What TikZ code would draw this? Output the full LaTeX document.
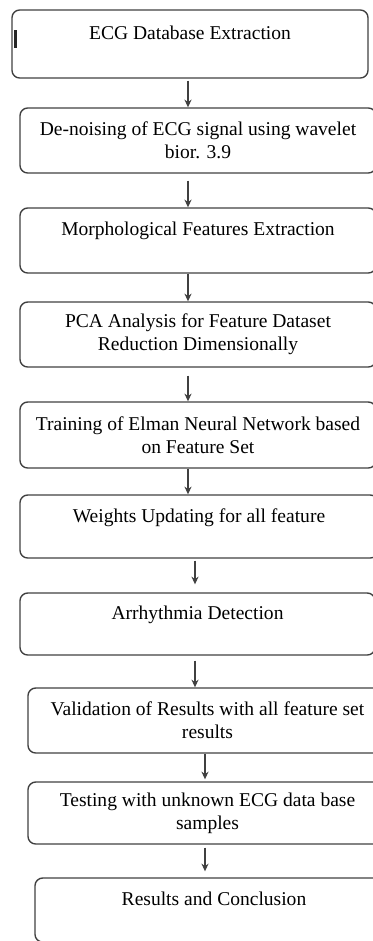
\documentclass[tikz,border=0pt]{standalone}
\usepackage{fontspec}
\setmainfont{Liberation Serif}
\usepackage{xcolor}
\usetikzlibrary{shapes,arrows.meta,positioning,calc}

\definecolor{edgegray}{HTML}{404040}
\newcommand{\px}{0.65pt}

\begin{document}
\begin{tikzpicture}[
    x=0.65pt, y=-0.65pt,
    box/.style={rectangle, draw=edgegray, rounded corners=5pt, line width=0.9pt, align=center, inner sep=0pt, font=\fontsize{12.7}{14.8}\selectfont},
    arrow/.style={-{Stealth[length=5pt,width=4.6pt]}, line width=0.9pt, draw=edgegray}
]
\useasboundingbox (0,0) rectangle (373,941);

% Stages (right edges run past the page)
\node[box, minimum width=356*\px, minimum height=68*\px] (dbext) at (190,44) {ECG Database Extraction\\ ~};
\node[box, minimum width=356*\px, minimum height=65*\px] (denoise) at (198,140.5) {De-noising of ECG signal using wavelet\\bior. 3.9};
\node[box, minimum width=356*\px, minimum height=65*\px] (morph) at (198,240.5) {Morphological Features Extraction\\ ~};
\node[box, minimum width=356*\px, minimum height=65*\px] (pca) at (198,334.5) {PCA Analysis for Feature Dataset\\Reduction Dimensionally};
\node[box, minimum width=356*\px, minimum height=66*\px] (elman) at (198,435) {Training of Elman Neural Network based\\on Feature Set};
\node[box, minimum width=358*\px, minimum height=63*\px] (weights) at (199,526.5) {Weights Updating for all feature\\ ~};
\node[box, minimum width=355*\px, minimum height=62*\px] (detect) at (197.5,624) {Arrhythmia Detection\\ ~};
\node[box, minimum width=359*\px, minimum height=65*\px] (valid) at (207.5,720.5) {Validation of Results with all feature set\\results};
\node[box, minimum width=359*\px, minimum height=62*\px] (testing) at (207.5,813) {Testing with unknown ECG data base\\samples};
\node[box, minimum width=358*\px, minimum height=64*\px] (result) at (214,910) {Results and Conclusion\\ ~};

% small mark on the first box
\fill[black!85] (13.5,30) rectangle (17,48);

% Arrow axes
\coordinate (axa) at (188,0);
\coordinate (axb) at (195,0);
\coordinate (axc) at (205,0);

% Arrows
\draw[arrow, shorten <=2*\px] (dbext.south -| axa) -- (denoise.north -| axa);
\draw[arrow, shorten <=7*\px] (denoise.south -| axa) -- (morph.north -| axa);
\draw[arrow] (morph.south -| axa) -- (pca.north -| axa);
\draw[arrow, shorten <=8*\px] (pca.south -| axa) -- (elman.north -| axa);
\draw[arrow] (elman.south -| axa) -- (weights.north -| axa);
\draw[arrow, shorten <=2*\px, shorten >=8*\px] (weights.south -| axb) -- (detect.north -| axb);
\draw[arrow, shorten <=5*\px] (detect.south -| axb) -- (valid.north -| axb);
\draw[arrow, shorten >=2*\px] (valid.south -| axc) -- (testing.north -| axc);
\draw[arrow, shorten <=3*\px, shorten >=6*\px] (testing.south -| axc) -- (result.north -| axc);

\end{tikzpicture}
\end{document}
